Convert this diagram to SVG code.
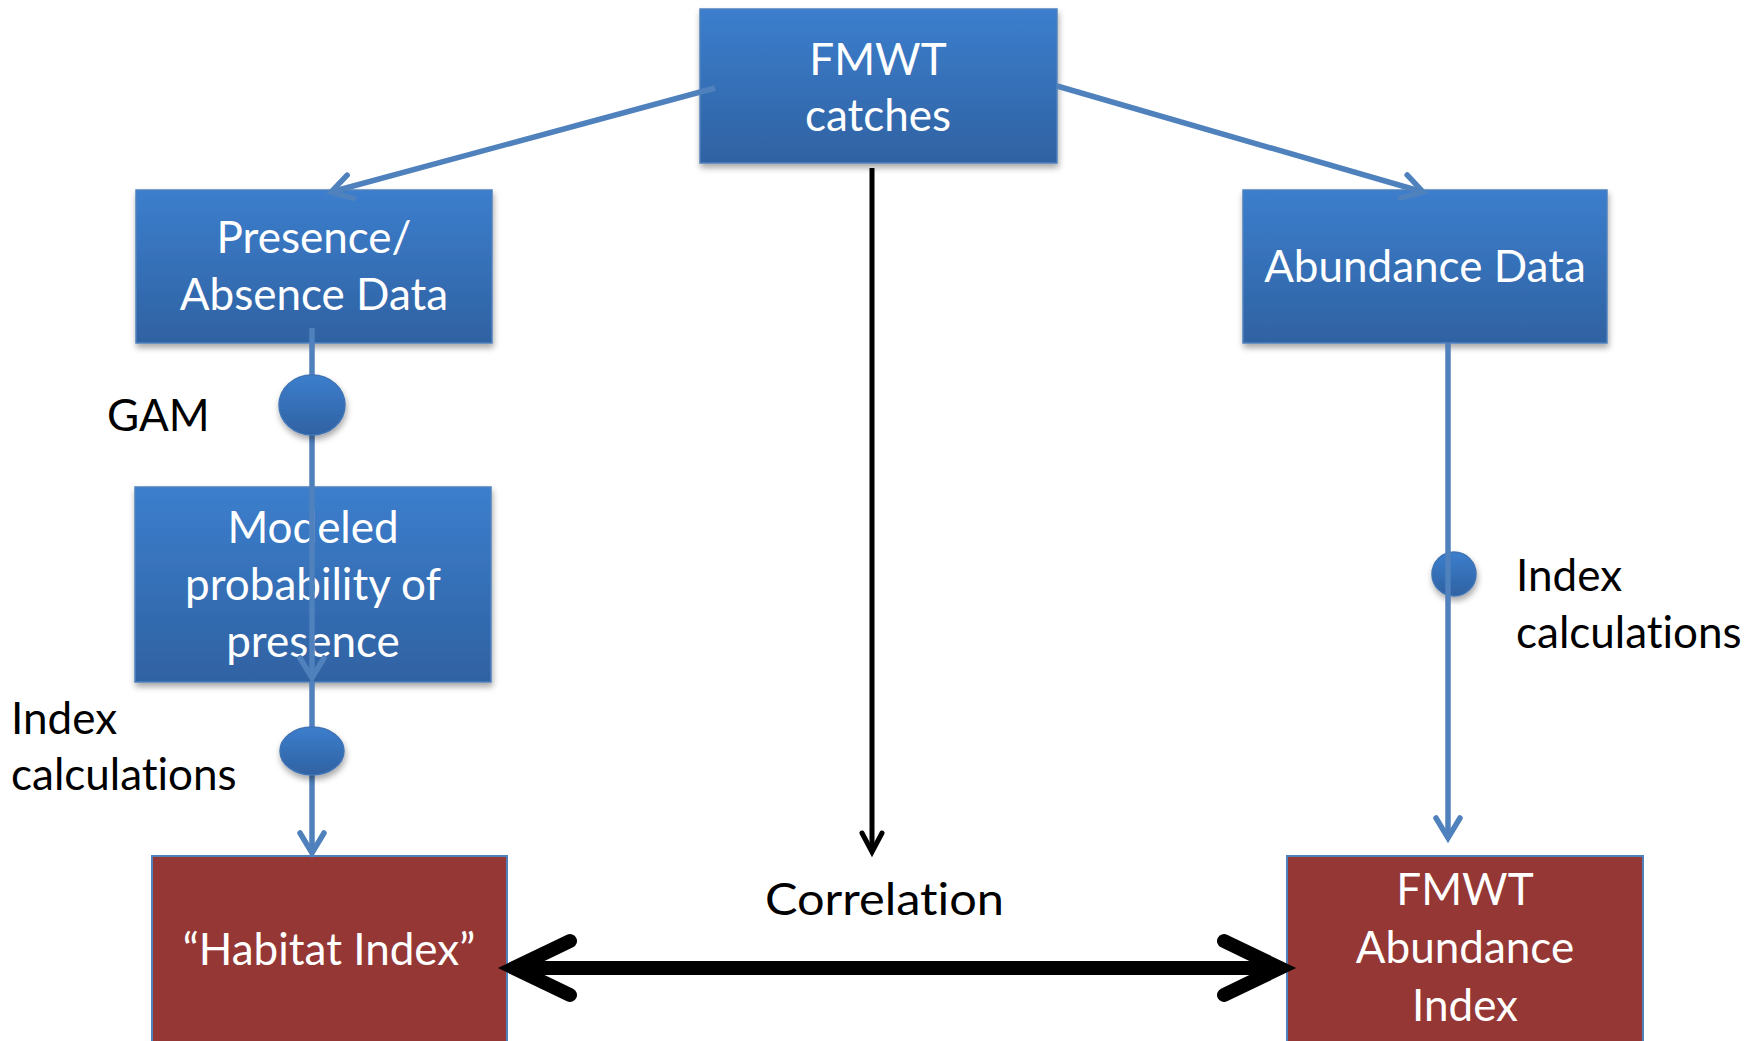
<svg xmlns="http://www.w3.org/2000/svg" width="1758" height="1041" viewBox="0 0 1758 1041">
  <style>
    .lbl { font-family: Lato, "Liberation Sans", sans-serif; font-size: 44px; font-variant-ligatures: none; }
    .in { fill: #ffffff; text-anchor: middle; }
    .out { fill: #000000; }
    .blue { fill: url(#blueFill); stroke: #4f81bd; stroke-width: 1.5; filter: url(#shadow); }
    .red { fill: #953735; stroke: #4f81bd; stroke-width: 2; }
    .flow { fill: none; stroke: #4f81bd; stroke-width: 5.5; }
  </style>
  <defs>
    <linearGradient id="blueFill" x1="0" y1="0" x2="0" y2="1">
      <stop offset="0" stop-color="#3c7ecd"/>
      <stop offset="1" stop-color="#2f62a2"/>
    </linearGradient>
    <filter id="shadow" x="-10%" y="-10%" width="125%" height="130%">
      <feDropShadow dx="1" dy="4" stdDeviation="3" flood-color="#000" flood-opacity="0.35"/>
    </filter>
    <marker id="blueHead" markerUnits="userSpaceOnUse" viewBox="-26 -16 30 32" markerWidth="30" markerHeight="32" refX="0" refY="0" orient="auto" overflow="visible">
      <path d="M-20,-12 L0,0 L-20,12" fill="none" stroke="#4f81bd" stroke-width="5.5" stroke-linejoin="miter" stroke-linecap="round"/>
    </marker>
    <marker id="thinHead" markerUnits="userSpaceOnUse" viewBox="-24 -14 28 28" markerWidth="28" markerHeight="28" refX="0" refY="0" orient="auto" overflow="visible">
      <path d="M-19,-10 L0,0 L-19,10" fill="none" stroke="#000" stroke-width="5" stroke-linejoin="miter" stroke-linecap="round"/>
    </marker>
    <marker id="thickHead" markerUnits="userSpaceOnUse" viewBox="-80 -40 90 80" markerWidth="90" markerHeight="80" refX="0" refY="0" orient="auto-start-reverse" overflow="visible">
      <path d="M-58,-27 L-2,0 L-58,27" fill="none" stroke="#000" stroke-width="14" stroke-linejoin="miter" stroke-linecap="round"/>
    </marker>
  </defs>

  <rect width="1758" height="1041" fill="#ffffff"/>

  <!-- boxes -->
  <g id="fmwt-catches">
    <rect class="blue" x="700" y="9" width="357" height="154"/>
    <text class="lbl in" x="878" y="75">FMWT</text>
    <text class="lbl in" x="878" y="131">catches</text>
  </g>
  <g id="presence-absence">
    <rect class="blue" x="136" y="190" width="356" height="153"/>
    <text class="lbl in" x="314" y="253">Presence/</text>
    <text class="lbl in" x="314" y="310">Absence Data</text>
  </g>
  <g id="abundance-data">
    <rect class="blue" x="1243" y="190" width="364" height="153"/>
    <text class="lbl in" x="1425" y="282">Abundance Data</text>
  </g>
  <g id="modeled-probability">
    <rect class="blue" x="135" y="487" width="356" height="195"/>
    <text class="lbl in" x="313" y="543">Modeled</text>
    <text class="lbl in" x="313" y="600">probability of</text>
    <text class="lbl in" x="313" y="657">presence</text>
  </g>
  <g id="habitat-index">
    <rect class="red" x="152" y="856" width="355" height="200"/>
    <text class="lbl in" x="329" y="965">“Habitat Index”</text>
  </g>
  <g id="fmwt-abundance-index">
    <rect class="red" x="1287" y="856" width="356" height="200"/>
    <text class="lbl in" x="1465" y="905">FMWT</text>
    <text class="lbl in" x="1465" y="963">Abundance</text>
    <text class="lbl in" x="1465" y="1021">Index</text>
  </g>

  <!-- connectors -->
  <g id="connectors">
    <line class="flow" x1="715" y1="88" x2="331" y2="192" marker-end="url(#blueHead)"/>
    <line class="flow" x1="1057" y1="86" x2="1423" y2="192" marker-end="url(#blueHead)"/>
    <line class="flow" x1="312" y1="328" x2="312" y2="678" marker-end="url(#blueHead)"/>
    <line class="flow" x1="312" y1="682" x2="312" y2="853" marker-end="url(#blueHead)"/>
    <line x1="872" y1="168" x2="872" y2="852" stroke="#000" stroke-width="5" marker-end="url(#thinHead)"/>
    <line x1="512" y1="968" x2="1282" y2="968" stroke="#000" stroke-width="14" marker-start="url(#thickHead)" marker-end="url(#thickHead)"/>
  </g>

  <!-- step markers on the flows -->
  <g id="gam-step">
    <ellipse class="blue" cx="312" cy="405" rx="33" ry="30" style="stroke:#3f73b4"/>
  </g>
  <g id="index-step-left">
    <ellipse class="blue" cx="312" cy="751" rx="32" ry="24" style="stroke:#3f73b4"/>
  </g>
  <g id="index-step-right">
    <circle class="blue" cx="1454" cy="574" r="22" style="stroke:#3f73b4"/>
    <line class="flow" x1="1448" y1="343" x2="1448" y2="838" marker-end="url(#blueHead)"/>
  </g>

  <!-- free labels -->
  <g id="labels">
    <text class="lbl out" x="107" y="431">GAM</text>
    <text class="lbl out" x="11" y="734">Index</text>
    <text class="lbl out" x="11" y="790">calculations</text>
    <text class="lbl out" x="1516" y="591">Index</text>
    <text class="lbl out" x="1516" y="648">calculations</text>
    <text class="lbl out" x="765" y="915" textLength="239" lengthAdjust="spacingAndGlyphs">Correlation</text>
  </g>
</svg>
